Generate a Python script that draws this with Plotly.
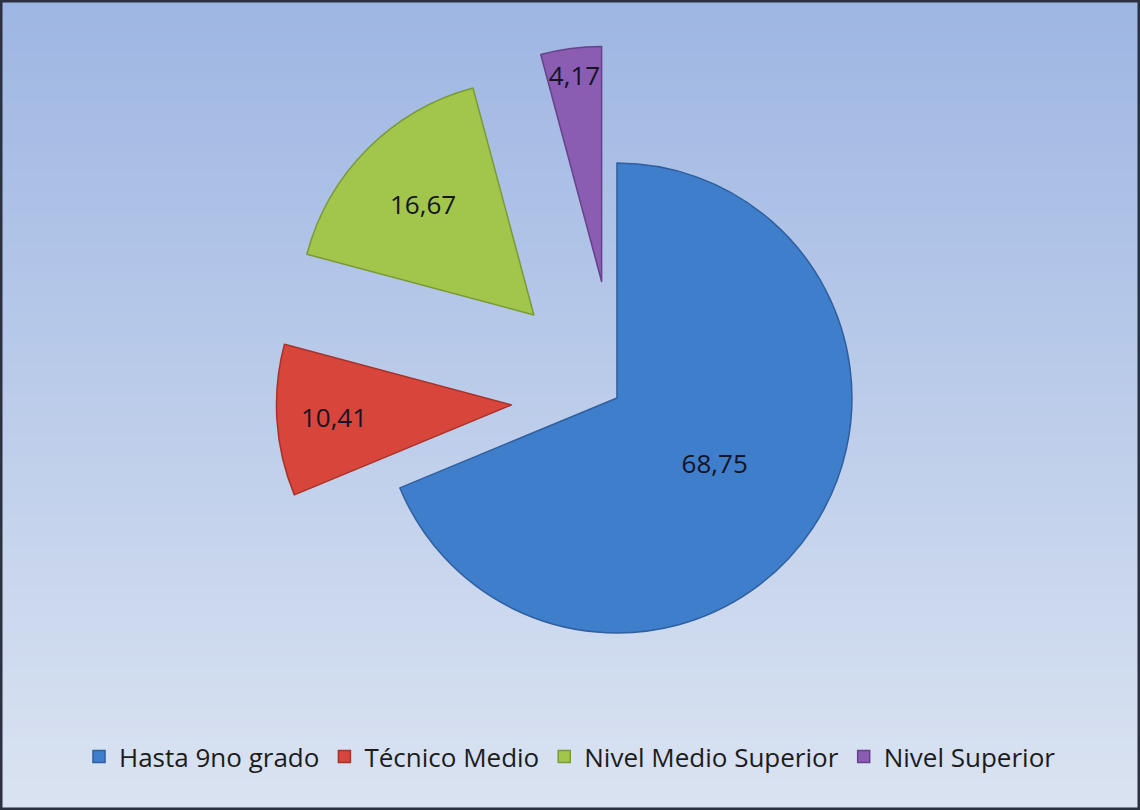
import plotly.graph_objects as go

# Nivel educacional (%)
categorias = ["Hasta 9no grado", "Técnico Medio", "Nivel Medio Superior", "Nivel Superior"]
porcentajes = [68.75, 10.41, 16.67, 4.17]
separacion = [0.0, 0.45, 0.5, 0.5]
colores = ["#3f7ecb", "#d8453b", "#a2c64c", "#8a5db3"]
bordes = ["#2f5f9e", "#a8322a", "#7a9a35", "#65428a"]

W, H = 1140, 810

fig = go.Figure(
    go.Pie(
        labels=categorias,
        values=porcentajes,
        pull=separacion,
        sort=False,
        direction="clockwise",
        rotation=0,
        marker=dict(colors=colores, line=dict(color=bordes, width=1.5)),
        texttemplate="%{value:.2f}",
        textposition="inside",
        insidetextorientation="horizontal",
        textfont=dict(family="Open Sans", size=26, color="#141424"),
        hoverinfo="label+value",
        domain=dict(x=[0.232, 0.8504], y=[0.0735, 0.9438]),
    )
)

# vertical gradient background built from thin bands
top_rgb = (158, 182, 227)
bot_rgb = (218, 227, 241)
n = 80
shapes = []
for i in range(n):
    t = i / (n - 1)
    c = tuple(round(top_rgb[k] + (bot_rgb[k] - top_rgb[k]) * t) for k in range(3))
    shapes.append(dict(
        type="rect", xref="paper", yref="paper",
        x0=0, x1=1, y0=1 - (i + 1) / n - 0.001, y1=1 - i / n,
        fillcolor="rgb(%d,%d,%d)" % c, line=dict(width=0), layer="below",
    ))
# dark frame around the chart
shapes.append(dict(
    type="rect", xref="paper", yref="paper", x0=0, x1=1, y0=0, y1=1,
    line=dict(color="#2b3140", width=5), fillcolor="rgba(0,0,0,0)", layer="above",
))

fig.update_layout(
    width=W, height=H,
    margin=dict(l=0, r=0, t=0, b=0),
    paper_bgcolor="#d9e2f0",
    separators=",.",
    shapes=shapes,
    uniformtext=dict(minsize=26, mode="show"),
    showlegend=True,
    legend=dict(
        orientation="h", x=0.5, xanchor="center", y=0.066, yanchor="middle",
        font=dict(family="Open Sans", size=26, color="#1c1c1c"),
        bgcolor="rgba(0,0,0,0)", itemwidth=30,
    ),
)

fig.write_html("out.html")
